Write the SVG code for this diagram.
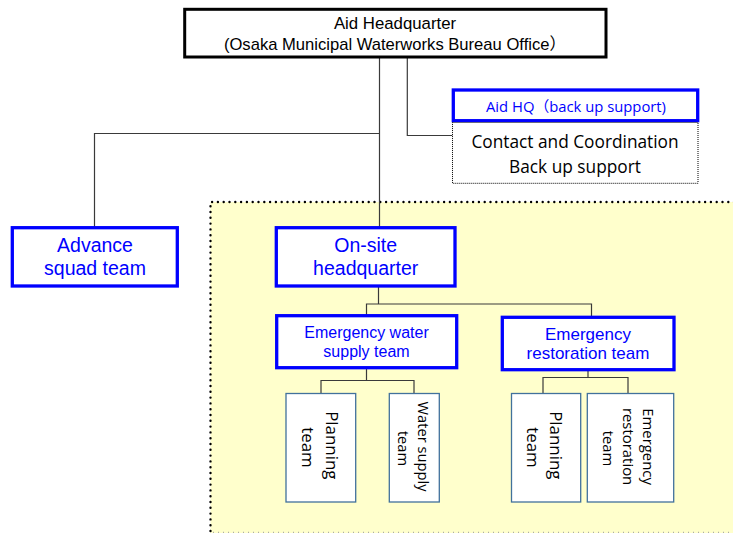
<svg xmlns="http://www.w3.org/2000/svg" width="733" height="533" viewBox="0 0 733 533">
  <style>
    .hq { fill: #ffffff; stroke: #000000; stroke-width: 3; }
    .blue { fill: #ffffff; stroke: #0000ff; stroke-width: 3.3; }
    .sub { fill: #ffffff; stroke: #41719c; stroke-width: 1.3; }
    .dotbox { fill: #ffffff; stroke: #000000; stroke-width: 1; stroke-dasharray: 1 1; }
    .arial { font-family: "Liberation Sans", Arial, "Noto Sans CJK JP", sans-serif; text-anchor: middle; }
    .cal { font-family: "Open Sans", "Noto Sans CJK JP", sans-serif; text-anchor: middle; }
    .bt { fill: #0000ff; }
    .kt { fill: #000000; }
    .wire { fill: none; stroke: #3a3a3a; stroke-width: 1.2; }
  </style>

  <!-- on-site area -->
  <g id="onsite-area">
    <rect x="210.5" y="202" width="540" height="331" fill="#ffffcc"/>
    <path d="M210.5,531 V202 H740" fill="none" stroke="#000000" stroke-width="2.4" stroke-linecap="round" stroke-dasharray="0 5.8"/>
    <path d="M213,532.3 H733" fill="none" stroke="#9a9a9a" stroke-width="1" stroke-dasharray="1 4"/>
  </g>

  <!-- connectors -->
  <g id="connectors">
    <path class="wire" d="M379.5,58 V227"/>
    <path class="wire" d="M94.5,227 V133.5 H379.5"/>
    <path class="wire" d="M407.3,58 V135.5 H452.5"/>
    <path class="wire" d="M378.5,287 V304 M366.5,315 V304 H591.5 V317"/>
    <path class="wire" d="M366.5,368 V380.5 M321,393 V380.5 H414 V395"/>
    <path class="wire" d="M588,370 V377.5 M543,393 V377.5 H628 V393"/>
  </g>

  <g id="aid-headquarter">
    <rect class="hq" x="184.7" y="9.3" width="421.3" height="47.7"/>
    <text class="arial kt" x="395" y="29.3" font-size="16.8">Aid Headquarter</text>
    <text class="arial kt" x="395" y="50" font-size="16.6">(Osaka Municipal Waterworks Bureau Office）</text>
  </g>

  <g id="aid-hq-backup">
    <rect class="blue" x="453.3" y="90" width="244.4" height="30.7"/>
    <text class="cal bt" x="576" y="112" font-size="14.8">Aid HQ（back up support)</text>
  </g>

  <g id="contact-coordination">
    <rect class="dotbox" x="452.5" y="122.5" width="245.5" height="60.8"/>
    <text class="cal kt" x="575" y="148.3" font-size="17.3">Contact and Coordination</text>
    <text class="cal kt" x="575" y="172.5" font-size="17.3">Back up support</text>
  </g>

  <g id="advance-squad">
    <rect class="blue" x="12.3" y="227.7" width="165" height="58.3"/>
    <text class="arial bt" x="95" y="252" font-size="19.5">Advance</text>
    <text class="arial bt" x="95" y="275" font-size="19.5">squad team</text>
  </g>

  <g id="onsite-headquarter">
    <rect class="blue" x="276.3" y="227.7" width="178.7" height="58.3"/>
    <text class="arial bt" x="365.7" y="252" font-size="19.5">On-site</text>
    <text class="arial bt" x="365.7" y="275" font-size="19.5">headquarter</text>
  </g>

  <g id="water-supply-team">
    <rect class="blue" x="276.7" y="315.7" width="180" height="52"/>
    <text class="arial bt" x="366.5" y="338.3" font-size="16">Emergency water</text>
    <text class="arial bt" x="366.5" y="357" font-size="16">supply team</text>
  </g>

  <g id="restoration-team">
    <rect class="blue" x="502.3" y="317.3" width="171.7" height="52.4"/>
    <text class="arial bt" x="588" y="340" font-size="17">Emergency</text>
    <text class="arial bt" x="588" y="359.3" font-size="17">restoration team</text>
  </g>

  <g id="planning-team-1">
    <rect class="sub" x="286" y="393.5" width="69.7" height="108.5"/>
    <text class="cal kt" transform="translate(326,447.5) rotate(90)" font-size="16.9">
      <tspan x="0" y="0">Planning</tspan>
      <tspan x="0" y="24">team</tspan>
    </text>
  </g>

  <g id="water-supply-unit">
    <rect class="sub" x="389.3" y="393.5" width="50" height="108.5"/>
    <text class="cal kt" transform="translate(417.5,448.5) rotate(90)" font-size="14.7">
      <tspan x="0" y="0">Water supply</tspan>
      <tspan x="0" y="20">team</tspan>
    </text>
  </g>

  <g id="planning-team-2">
    <rect class="sub" x="511.5" y="393.5" width="69.2" height="108.5"/>
    <text class="cal kt" transform="translate(550.3,447.5) rotate(90)" font-size="16.9">
      <tspan x="0" y="0">Planning</tspan>
      <tspan x="0" y="23">team</tspan>
    </text>
  </g>

  <g id="restoration-unit">
    <rect class="sub" x="587.3" y="393.5" width="86.4" height="108.5"/>
    <text class="cal kt" transform="translate(643,448.5) rotate(90)" font-size="14.9">
      <tspan x="0" y="0">Emergency</tspan>
      <tspan x="0" y="20">restoration</tspan>
      <tspan x="0" y="40">team</tspan>
    </text>
  </g>
</svg>
